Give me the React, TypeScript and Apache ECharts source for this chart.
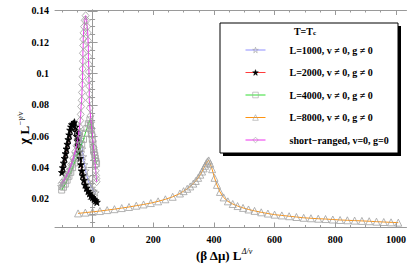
import React, { useEffect, useRef } from 'react';
import * as echarts from 'echarts';

// ---------- tick values ----------
const xMajorTicks = [0, 200, 400, 600, 800, 1000];
const xMinorTicks = [-100, -50, 50, 100, 150, 250, 300, 350, 450, 500, 550, 650, 700, 750, 850, 900, 950];
const yMajorTicks = [0.02, 0.04, 0.06, 0.08, 0.1, 0.12, 0.14];
const yMinorTicks = [0.005, 0.01, 0.015, 0.025, 0.03, 0.035, 0.045, 0.05, 0.055, 0.065, 0.07, 0.075,
  0.085, 0.09, 0.095, 0.105, 0.11, 0.115, 0.125, 0.13, 0.135];

// ---------- series names ----------
const seriesNames = [
  'L=1000, v \u2260 0, g \u2260 0',
  'L=2000, v \u2260 0, g \u2260 0',
  'L=4000, v \u2260 0, g \u2260 0',
  'L=8000, v \u2260 0, g \u2260 0',
  'short\u2212ranged, v=0, g=0',
];

// ---------- data: [ (beta dmu) L^(Delta/nu), chi L^(-gamma/nu) ] ----------
const dataL1000 = [
  [-104, 0.028], [-98, 0.030], [-92, 0.032], [-86, 0.034], [-80, 0.036], [-74, 0.039], [-68, 0.042],
  [-62, 0.045], [-56, 0.049], [-51, 0.053], [-47, 0.057], [-43, 0.061], [-40, 0.063],
  [-37, 0.058], [-34, 0.052], [-31, 0.047], [-27, 0.042], [-23, 0.038], [-18, 0.034], [-13, 0.031],
  [-8, 0.029], [-2, 0.027], [4, 0.025], [10, 0.024],
];

const dataL2000 = [
  [-101, 0.037], [-98, 0.040], [-95, 0.043], [-92, 0.046], [-89, 0.049], [-86, 0.052], [-83, 0.055],
  [-80, 0.058], [-77, 0.061], [-74, 0.064], [-71, 0.066], [-68, 0.0675], [-64, 0.068], [-60, 0.069],
  [-56, 0.066], [-54, 0.063], [-52, 0.060], [-50, 0.057], [-48, 0.054], [-45, 0.050], [-42, 0.046],
  [-39, 0.042], [-36, 0.038], [-33, 0.035], [-29, 0.032], [-25, 0.029], [-20, 0.027], [-15, 0.025],
  [-10, 0.0235], [-5, 0.022], [0, 0.021], [5, 0.020], [10, 0.019], [14, 0.018],
];

const dataL4000 = [
  [-102, 0.0257], [-96, 0.0275], [-90, 0.0295], [-84, 0.032], [-78, 0.0345], [-72, 0.037], [-66, 0.040],
  [-60, 0.043], [-54, 0.046], [-48, 0.049], [-42, 0.052], [-36, 0.055], [-30, 0.058], [-24, 0.062],
  [-19, 0.065], [-14, 0.068], [-9, 0.0705],
  [-7, 0.067], [-5, 0.064], [-3, 0.061], [-1, 0.058], [1, 0.055], [3, 0.052], [5, 0.050], [7, 0.048],
  [9, 0.046], [11, 0.044], [13, 0.0425],
];

const dataL8000 = [
  [-48, 0.0108], [-24, 0.0113], [0, 0.0118], [24, 0.0123], [48, 0.0129], [72, 0.0135], [96, 0.0142],
  [120, 0.0149], [144, 0.0157], [168, 0.0165], [192, 0.0174], [216, 0.0185], [240, 0.0198], [264, 0.0214],
  [288, 0.0235], [300, 0.0250], [312, 0.0265], [322, 0.0280], [332, 0.0298], [340, 0.0315], [348, 0.0335],
  [355, 0.0355], [361, 0.0375], [366, 0.0395], [371, 0.0412], [375, 0.0428], [379, 0.0440], [383, 0.0446],
  [388, 0.0425], [394, 0.0390], [402, 0.0335], [410, 0.0290], [420, 0.0245], [432, 0.0210], [446, 0.0185],
  [462, 0.0168], [478, 0.0155], [496, 0.0143], [514, 0.0133], [534, 0.0124], [556, 0.0115], [578, 0.0107],
  [600, 0.0100], [624, 0.0095], [648, 0.0090], [672, 0.0085], [696, 0.0080], [720, 0.0077], [744, 0.0074],
  [768, 0.0072], [792, 0.0069], [816, 0.0066], [840, 0.0064], [864, 0.0062], [888, 0.0060], [912, 0.0058],
  [936, 0.0055], [960, 0.0053], [984, 0.0051], [1008, 0.0049],
];

const dataShort = [
  [-102, 0.030], [-94, 0.032], [-86, 0.035], [-78, 0.038], [-71, 0.042], [-64, 0.046], [-58, 0.050],
  [-53, 0.054], [-49, 0.058], [-46, 0.062], [-43, 0.066], [-41, 0.070], [-39, 0.074], [-38, 0.079],
  [-36, 0.083], [-35, 0.088], [-34, 0.093], [-33, 0.098], [-33, 0.103], [-32, 0.108], [-32, 0.113],
  [-31, 0.118], [-31, 0.122], [-30, 0.126], [-28, 0.130], [-26, 0.134], [-23, 0.137],
  [-20, 0.134], [-18, 0.130], [-16, 0.126], [-15, 0.121], [-14, 0.116], [-14, 0.111], [-13, 0.106],
  [-12, 0.101], [-12, 0.096], [-11, 0.092], [-11, 0.087], [-11, 0.083], [-9, 0.078], [-7, 0.073],
  [-5, 0.069], [-3, 0.065], [-1, 0.061], [1, 0.057], [3, 0.053], [5, 0.049], [7, 0.045], [9, 0.041],
  [10.5, 0.038], [11.5, 0.035], [12.5, 0.033], [13, 0.031],
];

const STAR = 'path://M50,0 L61.8,35.1 L98.1,35.1 L68.8,56.8 L79.4,91 L50,70 L20.6,91 L31.2,56.8 L1.9,35.1 L38.2,35.1 Z';
const FONT = 'Liberation Serif';
const AXIS_GRAY = '#9a9a9a';
const MARK_GRAY = '#a0a0a0';

export default function App() {
  const ref = useRef<HTMLDivElement>(null);

  useEffect(() => {
    if (!ref.current) return;
    const chart = echarts.init(ref.current, undefined, { renderer: 'svg' });

    const xMin = -124, xMax = 1035;
    const yMin = 0.0018, yMax = 0.1406;

    const baseX = { type: 'value', min: xMin, max: xMax, splitLine: { show: false } };
    const baseY = { type: 'value', min: yMin, max: yMax, splitLine: { show: false } };

    const mkSeries = (name: string, data: number[][], symbol: string, size: any, lineColor: string, fill: string, stroke: string, z: number) => ({
      name,
      type: 'line',
      data,
      xAxisIndex: 0,
      yAxisIndex: 0,
      symbol,
      symbolSize: size,
      showSymbol: true,
      showAllSymbol: true,
      silent: true,
      z,
      lineStyle: { color: lineColor, width: 1 },
      itemStyle: { color: fill, borderColor: stroke, borderWidth: 0.8 },
      emphasis: { disabled: true },
    });

    const labelStyle = { fontFamily: FONT, fontWeight: 'bold', fontSize: 10, color: '#000' };

    chart.setOption({
      animation: false,
      grid: { left: 55, right: 8.5, top: 10, bottom: 37.5, containLabel: false },
      xAxis: [
        {
          ...baseX, position: 'bottom',
          axisLine: { show: true, lineStyle: { color: AXIS_GRAY, width: 1 } },
          axisTick: { show: true, inside: true, length: 5, customValues: xMajorTicks, lineStyle: { color: AXIS_GRAY } },
          axisLabel: { show: true, customValues: xMajorTicks, margin: 7, ...labelStyle, formatter: (v: number) => String(v) },
        },
        {
          ...baseX, position: 'top',
          axisLine: { show: true, lineStyle: { color: AXIS_GRAY, width: 1 } },
          axisTick: { show: true, inside: true, length: 5, customValues: xMajorTicks, lineStyle: { color: AXIS_GRAY } },
          axisLabel: { show: false },
        },
        {
          ...baseX, position: 'bottom', offset: 0,
          axisLine: { show: false },
          axisTick: { show: true, inside: true, length: 2.5, customValues: xMinorTicks, lineStyle: { color: AXIS_GRAY } },
          axisLabel: { show: false },
        },
        {
          ...baseX, position: 'top', offset: 0,
          axisLine: { show: false },
          axisTick: { show: true, inside: true, length: 2.5, customValues: xMinorTicks, lineStyle: { color: AXIS_GRAY } },
          axisLabel: { show: false },
        },
      ],
      yAxis: [
        {
          ...baseY, position: 'left',
          axisLine: { show: true, lineStyle: { color: AXIS_GRAY, width: 1 } },
          axisTick: { show: true, inside: true, length: 5, customValues: yMajorTicks, lineStyle: { color: AXIS_GRAY } },
          axisLabel: { show: true, customValues: yMajorTicks, margin: 6, ...labelStyle, formatter: (v: number) => String(v) },
        },
        {
          ...baseY, position: 'right',
          axisLine: { show: true, lineStyle: { color: AXIS_GRAY, width: 1 } },
          axisTick: { show: true, inside: true, length: 5, customValues: yMajorTicks, lineStyle: { color: AXIS_GRAY } },
          axisLabel: { show: false },
        },
        {
          ...baseY, position: 'left', offset: 0,
          axisLine: { show: false },
          axisTick: { show: true, inside: true, length: 2.5, customValues: yMinorTicks, lineStyle: { color: AXIS_GRAY } },
          axisLabel: { show: false },
        },
        {
          ...baseY, position: 'right', offset: 0,
          axisLine: { show: false },
          axisTick: { show: true, inside: true, length: 2.5, customValues: yMinorTicks, lineStyle: { color: AXIS_GRAY } },
          axisLabel: { show: false },
        },
      ],
      legend: {
        orient: 'vertical',
        left: 245,
        top: 44,
        padding: 0,
        itemGap: 10.5,
        itemWidth: 20,
        itemHeight: 7,
        z: 6,
        selectedMode: false,
        data: seriesNames,
        lineStyle: { width: 1, color: 'inherit' },
        itemStyle: { borderWidth: 0.6 },
        textStyle: { fontFamily: FONT, fontWeight: 'bold', fontSize: 10, color: '#000', lineHeight: 12, padding: [0, 0, 0, 19] },
      },
      graphic: [
        { type: 'rect', z: 3, shape: { x: 223, y: 26, width: 178, height: 130 }, style: { fill: '#000' }, silent: true },
        { type: 'rect', z: 4, shape: { x: 220, y: 23, width: 178, height: 130 }, style: { fill: '#fff', stroke: '#000', lineWidth: 1 }, silent: true },
        {
          type: 'text', z: 7, x: 305, y: 31, silent: true,
          style: {
            text: '{a|T=T}{b|c}',
            align: 'center', verticalAlign: 'middle',
            rich: {
              a: { fontFamily: FONT, fontWeight: 'bold', fontSize: 10, fill: '#000' },
              b: { fontFamily: FONT, fontWeight: 'bold', fontSize: 7, fill: '#000', verticalAlign: 'bottom', padding: [4, 0, 0, 0] },
            },
          },
        },
        {
          type: 'text', z: 7, x: 24, y: 128, rotation: Math.PI / 2, silent: true,
          style: {
            text: '{c|\u03c7} {l|L}{s|\u2212\u03b3/\u03bd}',
            align: 'center', verticalAlign: 'middle',
            rich: {
              c: { fontFamily: FONT, fontWeight: 'bold', fontSize: 14, fill: '#000', lineHeight: 16 },
              l: { fontFamily: FONT, fontWeight: 'bold', fontSize: 13, fill: '#000', lineHeight: 16 },
              s: { fontFamily: FONT, fontStyle: 'italic', fontSize: 8, fill: '#000', verticalAlign: 'top', lineHeight: 16, padding: [0, 0, 6, 0] },
            },
          },
        },
        {
          type: 'text', z: 7, x: 224, y: 255, silent: true,
          style: {
            text: '{a|(\u03b2 \u0394\u03bc) L}{s|\u0394/\u03bd}',
            align: 'center', verticalAlign: 'middle',
            rich: {
              a: { fontFamily: FONT, fontWeight: 'bold', fontSize: 13, fill: '#000', lineHeight: 16 },
              s: { fontFamily: FONT, fontStyle: 'italic', fontSize: 8, fill: '#000', verticalAlign: 'top', lineHeight: 16, padding: [0, 0, 6, 0] },
            },
          },
        },
      ],
      series: [
        mkSeries(seriesNames[0], dataL1000, STAR, 7, '#8f8fff', 'transparent', MARK_GRAY, 2),
        mkSeries(seriesNames[1], dataL2000, STAR, 7, '#ff3c3c', '#000', '#000', 3),
        mkSeries(seriesNames[2], dataL4000, 'rect', 6, '#33dd33', 'transparent', MARK_GRAY, 4),
        mkSeries(seriesNames[3], dataL8000, 'triangle', 7, '#ff9411', 'transparent', MARK_GRAY, 5),
        mkSeries(seriesNames[4], dataShort, 'diamond', [7, 8], '#ee33ee', 'transparent', MARK_GRAY, 6),
      ],
    });

    return () => chart.dispose();
  }, []);

  return <div ref={ref} style={{ position: 'absolute', left: 0, top: 0, width: 415, height: 265 }} />;
}
